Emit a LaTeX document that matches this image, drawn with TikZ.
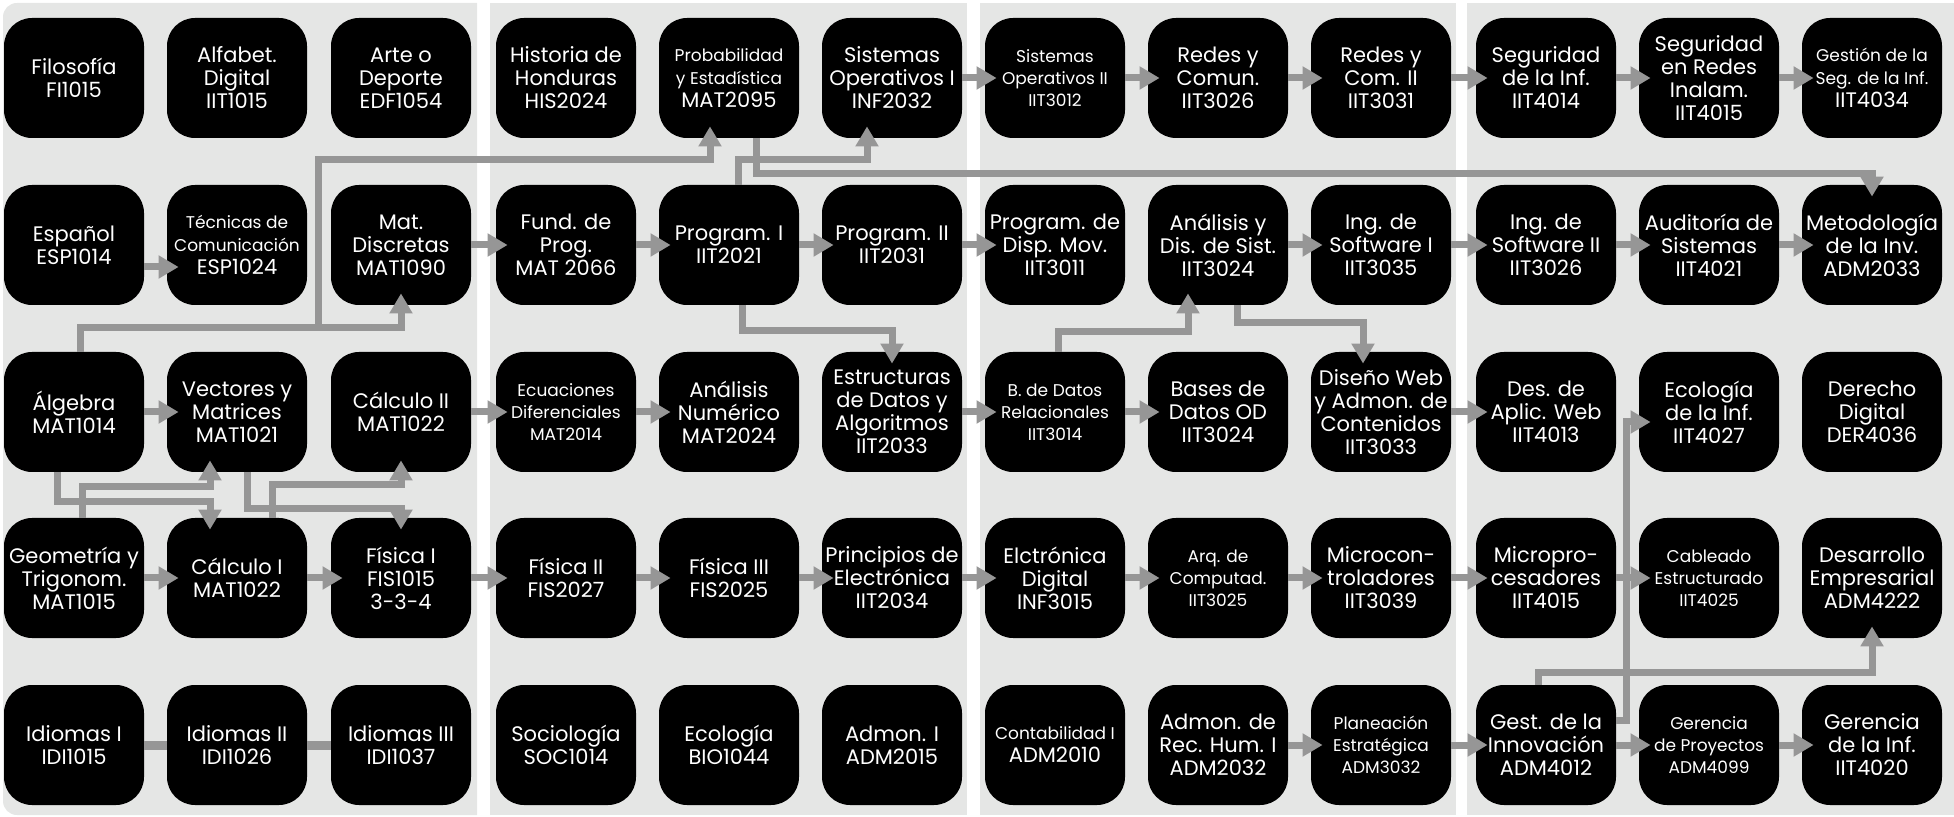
\documentclass[tikz,border=0pt]{standalone}
\usepackage{fontspec}
\setmainfont{Poppins}
\usepackage{tikz}
\usetikzlibrary{arrows.meta}
\definecolor{panelgray}{RGB}{229,230,229}
\definecolor{linkgray}{RGB}{150,150,150}
\newcommand{\sm}[1]{{\fontsize{8.5}{10}\selectfont #1}}
\tikzset{
	course/.style={fill=black, text=white, rounded corners=14pt, minimum width=70pt, minimum height=60pt, inner sep=0pt, align=center, font=\fontsize{10.5}{11.5}\selectfont},
	smallcourse/.style={course, font=\fontsize{8.5}{11}\selectfont},
	link/.style={draw=linkgray, line width=3.5pt, shorten >=-6pt, -{Triangle[length=10pt, width=11pt]}},
	plainlink/.style={draw=linkgray, line width=4.5pt}
}

\begin{document}
\begin{tikzpicture}[x=0.5pt, y=-0.5pt]
	\useasboundingbox (0,0) rectangle (1954,817);
	
	\fill[panelgray] (477,3) [rounded corners=7pt] -- (3,3) -- (3,815) [sharp corners] -- (477,815) -- cycle;
	\fill[panelgray] (490,3) rectangle (967,815);
	\fill[panelgray] (980,3) rectangle (1456,815);
	\fill[panelgray] (1467,3) rectangle (1954,815);
	
	\node[course] (filo) at (74,78) {Filosofía\\FI1015};
	\node[course] (alfab) at (237,78) {Alfabet.\\Digital\\IIT1015};
	\node[course] (arte) at (401,78) {Arte o\\Deporte\\EDF1054};
	\node[course] (hist) at (566,78) {Historia de\\Honduras\\HIS2024};
	\node[course] (proba) at (729,78) {\sm{Probabilidad}\\\sm{y Estadística}\\MAT2095};
	\node[course] (so1) at (892,78) {Sistemas\\Operativos I\\INF2032};
	\node[smallcourse] (so2) at (1055,78) {Sistemas\\Operativos II\\IIT3012};
	\node[course] (redes1) at (1218,78) {Redes y\\Comun.\\IIT3026};
	\node[course] (redes2) at (1381,78) {Redes y\\Com. II\\IIT3031};
	\node[course] (seginf) at (1546,78) {Seguridad\\de la Inf.\\IIT4014};
	\node[course] (segred) at (1709,78) {Seguridad\\en Redes\\Inalam.\\IIT4015};
	\node[course] (gestseg) at (1872,78) {\sm{Gestión de la}\\\sm{Seg. de la Inf.}\\IIT4034};
	
	\node[course] (espa) at (74,245) {Español\\ESP1014};
	\node[course] (tecn) at (237,245) {\sm{Técnicas de}\\\sm{Comunicación}\\ESP1024};
	\node[course] (discr) at (401,245) {Mat.\\Discretas\\MAT1090};
	\node[course] (fundp) at (566,245) {Fund. de\\Prog.\\MAT 2066};
	\node[course] (prog1) at (729,245) {Program. I\\IIT2021};
	\node[course] (prog2) at (892,245) {Program. II\\IIT2031};
	\node[course] (progmov) at (1055,245) {Program. de\\Disp. Mov.\\IIT3011};
	\node[course] (anadis) at (1218,245) {Análisis y\\Dis. de Sist.\\IIT3024};
	\node[course] (ingsw1) at (1381,245) {Ing. de\\Software I\\IIT3035};
	\node[course] (ingsw2) at (1546,245) {Ing. de\\Software II\\IIT3026};
	\node[course] (audit) at (1709,245) {Auditoría de\\Sistemas\\IIT4021};
	\node[course] (metod) at (1872,245) {Metodología\\de la Inv.\\ADM2033};
	
	\node[course] (alg) at (74,412) {Álgebra\\MAT1014};
	\node[course] (vect) at (237,412) {Vectores y\\Matrices\\MAT1021};
	\node[course] (calc2) at (401,412) {Cálculo II\\MAT1022};
	\node[smallcourse] (ecdif) at (566,412) {Ecuaciones\\Diferenciales\\MAT2014};
	\node[course] (anum) at (729,412) {Análisis\\Numérico\\MAT2024};
	\node[course] (estr) at (892,412) {Estructuras\\de Datos y\\Algoritmos\\IIT2033};
	\node[smallcourse] (bdrel) at (1055,412) {B. de Datos\\Relacionales\\IIT3014};
	\node[course] (bdod) at (1218,412) {Bases de\\Datos OD\\IIT3024};
	\node[course] (dweb) at (1381,412) {Diseño Web\\y Admon. de\\Contenidos\\IIT3033};
	\node[course] (aplweb) at (1546,412) {Des. de\\Aplic. Web\\IIT4013};
	\node[course] (ecoinf) at (1709,412) {Ecología\\de la Inf.\\IIT4027};
	\node[course] (derecho) at (1872,412) {Derecho\\Digital\\DER4036};
	
	\node[course] (geom) at (74,578) {Geometría y\\Trigonom.\\MAT1015};
	\node[course] (calc1) at (237,578) {Cálculo I\\MAT1022};
	\node[course] (fis1) at (401,578) {Física I\\FIS1015\\3-3-4};
	\node[course] (fis2) at (566,578) {Física II\\FIS2027};
	\node[course] (fis3) at (729,578) {Física III\\FIS2025};
	\node[course] (princ) at (892,578) {Principios de\\Electrónica\\IIT2034};
	\node[course] (elecd) at (1055,578) {Elctrónica\\Digital\\INF3015};
	\node[smallcourse] (arq) at (1218,578) {Arq. de\\Computad.\\IIT3025};
	\node[course] (microc) at (1381,578) {Microcon-\\troladores\\IIT3039};
	\node[course] (microp) at (1546,578) {Micropro-\\cesadores\\IIT4015};
	\node[smallcourse] (cable) at (1709,578) {Cableado\\Estructurado\\IIT4025};
	\node[course] (desemp) at (1872,578) {Desarrollo\\Empresarial\\ADM4222};
	
	\node[course] (idi1) at (74,745) {Idiomas I\\IDI1015};
	\node[course] (idi2) at (237,745) {Idiomas II\\IDI1026};
	\node[course] (idi3) at (401,745) {Idiomas III\\IDI1037};
	\node[course] (soc) at (566,745) {Sociología\\SOC1014};
	\node[course] (eco) at (729,745) {Ecología\\BIO1044};
	\node[course] (adm1) at (892,745) {Admon. I\\ADM2015};
	\node[course] (conta) at (1055,745) {\sm{Contabilidad I}\\ADM2010};
	\node[course] (rrhh) at (1218,745) {Admon. de\\Rec. Hum. I\\ADM2032};
	\node[smallcourse] (plan) at (1381,745) {Planeación\\Estratégica\\ADM3032};
	\node[course] (gestinn) at (1546,745) {Gest. de la\\Innovación\\ADM4012};
	\node[smallcourse] (gerproy) at (1709,745) {Gerencia\\de Proyectos\\ADM4099};
	\node[course] (gerinf) at (1872,745) {Gerencia\\de la Inf.\\IIT4020};
	
	\draw[link] ([xshift=3pt]alg.north) -- ++(0,-24) -| (discr.south);
	\draw[link] ([xshift=3pt]alg.north) |- (318,328) -- (318,160) -| ([xshift=-9.5pt]proba.south);
	\draw[link] ([xshift=4.5pt]prog1.north) -- ++(0,-25) -| ([xshift=-12.5pt]so1.south);
	\draw[link] ([xshift=13.5pt]proba.south) -- ++(0,35) -| (metod.north);
	\draw[link] ([xshift=6.5pt]prog1.south) -- ++(0,25) -| (estr.north);
	\draw[link] ([xshift=9.5pt]anadis.south) -- ++(0,17) -| ([xshift=-9pt]dweb.north);
	\draw[link] ([xshift=1.5pt]bdrel.north) -- ++(0,-20) -| ([xshift=-15pt]anadis.south);
	\draw[link] ([xshift=-8.5pt]alg.south) -- ++(0,29) -| ([xshift=-13.5pt]calc1.north);
	\draw[link] ([xshift=4pt]geom.north) -- ++(0,-31) -| ([xshift=-13.5pt]vect.south);
	\draw[link] ([xshift=5pt]vect.south) -- ++(0,36) -| (fis1.north);
	\draw[link] ([xshift=17.5pt]calc1.north) -- ++(0,-33) -| (calc2.south);
	\draw[link] ([yshift=12.5pt]gestinn.east) -- ++(10,0) |- ([yshift=-5pt]ecoinf.west);
	\draw[link] ([xshift=-4pt]gestinn.north) -- ++(0,-12) -| (desemp.south);
	
	\draw[link] (so1.east) -- (so2.west);
	\draw[link] (so2.east) -- (redes1.west);
	\draw[link] (redes1.east) -- (redes2.west);
	\draw[link] (redes2.east) -- (seginf.west);
	\draw[link] (seginf.east) -- (segred.west);
	\draw[link] (segred.east) -- (gestseg.west);
	
	\draw[link] ([yshift=-11pt]espa.east) -- ([yshift=-11pt]tecn.west);
	\draw[link] (discr.east) -- (fundp.west);
	\draw[link] (fundp.east) -- (prog1.west);
	\draw[link] (prog1.east) -- (prog2.west);
	\draw[link] (prog2.east) -- (progmov.west);
	\draw[link] (anadis.east) -- (ingsw1.west);
	\draw[link] (ingsw1.east) -- (ingsw2.west);
	\draw[link] (ingsw2.east) -- (audit.west);
	\draw[link] (audit.east) -- (metod.west);
	
	\draw[link] (alg.east) -- (vect.west);
	\draw[link] (calc2.east) -- (ecdif.west);
	\draw[link] (ecdif.east) -- (anum.west);
	\draw[link] (estr.east) -- (bdrel.west);
	\draw[link] (bdrel.east) -- (bdod.west);
	\draw[link] (dweb.east) -- (aplweb.west);
	
	\draw[link] (geom.east) -- (calc1.west);
	\draw[link] (calc1.east) -- (fis1.west);
	\draw[link] (fis1.east) -- (fis2.west);
	\draw[link] (fis2.east) -- (fis3.west);
	\draw[link] (fis3.east) -- (princ.west);
	\draw[link] (princ.east) -- (elecd.west);
	\draw[link] (elecd.east) -- (arq.west);
	\draw[link] (arq.east) -- (microc.west);
	\draw[link] (microc.east) -- (microp.west);
	\draw[link] (microp.east) -- (cable.west);
	
	\draw[plainlink] (idi1.east) -- (idi2.west);
	\draw[plainlink] (idi2.east) -- (idi3.west);
	\draw[link] (rrhh.east) -- (plan.west);
	\draw[link] (plan.east) -- (gestinn.west);
	\draw[link] (gestinn.east) -- (gerproy.west);
	\draw[link] (gerproy.east) -- (gerinf.west);
	
\end{tikzpicture}
\end{document}
